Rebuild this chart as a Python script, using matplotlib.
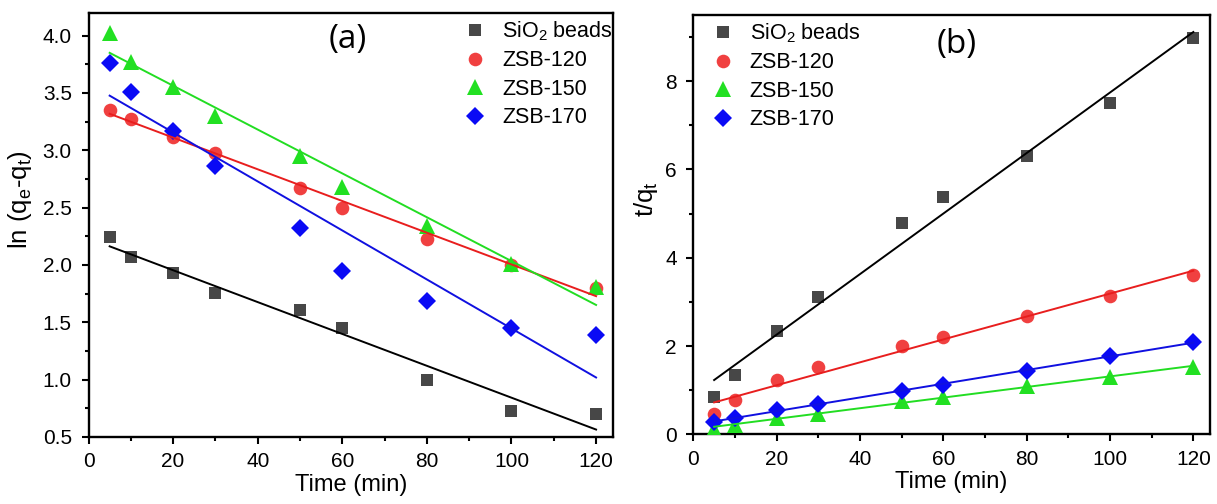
import numpy as np
import matplotlib
matplotlib.use("Agg")
import matplotlib.pyplot as plt
from matplotlib.ticker import MultipleLocator, FormatStrFormatter

plt.rcParams['font.family'] = ['Liberation Sans', 'DejaVu Sans']
plt.rcParams['mathtext.fontset'] = 'custom'
plt.rcParams['mathtext.rm'] = 'Liberation Sans'
plt.rcParams['mathtext.it'] = 'Liberation Sans'

# Contact time (min)
time_min = [5, 10, 20, 30, 50, 60, 80, 100, 120]

series_labels = ['SiO$_2$ beads', 'ZSB-120', 'ZSB-150', 'ZSB-170']

# Pseudo-first-order: ln(qe - qt)
pfo_sio2 = [2.24, 2.07, 1.93, 1.76, 1.61, 1.45, 1.00, 0.73, 0.70]
pfo_zsb120 = [3.35, 3.27, 3.12, 2.98, 2.67, 2.50, 2.23, 2.00, 1.80]
pfo_zsb150 = [4.02, 3.77, 3.55, 3.30, 2.95, 2.68, 2.34, 2.01, 1.81]
pfo_zsb170 = [3.76, 3.51, 3.17, 2.86, 2.32, 1.95, 1.69, 1.45, 1.39]

# Pseudo-second-order: t/qt
pso_sio2 = [0.85, 1.34, 2.34, 3.10, 4.78, 5.37, 6.30, 7.50, 8.97]
pso_zsb120 = [0.47, 0.78, 1.23, 1.53, 2.00, 2.21, 2.68, 3.14, 3.62]
pso_zsb150 = [0.12, 0.22, 0.37, 0.47, 0.76, 0.85, 1.09, 1.30, 1.52]
pso_zsb170 = [0.28, 0.38, 0.55, 0.68, 0.99, 1.12, 1.44, 1.77, 2.09]

marker_colors = ['#474747', '#F04040', '#22E022', '#0A0AF5']
line_colors = ['#000000', '#E81E1E', '#22DD22', '#1010E0']
markers = ['s', 'o', '^', 'D']
marker_sizes = [8.6, 9.8, 11.5, 9]

fig = plt.figure(figsize=(12.17, 5.04), dpi=100)
W, H = 1217, 504
ax_a = fig.add_axes([88.5 / W, 1 - 437 / H, (613 - 88.5) / W, (437 - 12.7) / H])
ax_b = fig.add_axes([693.3 / W, 1 - 434.3 / H, (1210 - 693.3) / W, (434.3 - 15) / H])


def draw_panel(ax, groups):
    x = np.array(time_min, dtype=float)
    handles = []
    for y, lab, mc, mk, ms in zip(groups, series_labels, marker_colors,
                                  markers, marker_sizes):
        h, = ax.plot(x, np.array(y, dtype=float), linestyle='none', marker=mk,
                     markersize=ms, color=mc, markeredgewidth=0, label=lab,
                     zorder=3)
        handles.append(h)
    # linear fits through each series
    for y, lc in zip(groups, line_colors):
        k, b = np.polyfit(x, np.array(y, dtype=float), 1)
        xx = np.array([x.min(), x.max()])
        ax.plot(xx, k * xx + b, color=lc, linewidth=1.4, zorder=4)
    return handles


def style_axes(ax):
    for s in ax.spines.values():
        s.set_linewidth(1.7)
    ax.tick_params(which='both', direction='out', top=False, right=False,
                   labelsize=15, width=1.5)
    ax.tick_params(which='major', length=5)
    ax.tick_params(which='minor', length=3)
    ax.tick_params(axis='x', pad=6)
    ax.tick_params(axis='y', pad=7)
    ax.xaxis.set_major_locator(MultipleLocator(20))
    ax.xaxis.set_minor_locator(MultipleLocator(10))
    ax.set_xlim(0, 124)
    ax.set_xlabel('Time (min)', fontsize=17, labelpad=2)


legend_kw = dict(frameon=False, fontsize=15.5, handletextpad=0.6,
                 borderpad=0, borderaxespad=0, labelspacing=0.35,
                 handlelength=1.3)

# Panel (a)
h_a = draw_panel(ax_a, [pfo_sio2, pfo_zsb120, pfo_zsb150, pfo_zsb170])
style_axes(ax_a)
ax_a.set_ylim(0.5, 4.2)
ax_a.yaxis.set_major_locator(MultipleLocator(0.5))
ax_a.yaxis.set_minor_locator(MultipleLocator(0.25))
ax_a.yaxis.set_major_formatter(FormatStrFormatter('%.1f'))
ax_a.set_ylabel('ln (q$_e$-q$_t$)', fontsize=18.5)
ax_a.yaxis.set_label_coords(-0.104, 0.559)
ax_a.text(0.495, 0.936, '(a)', transform=ax_a.transAxes, fontsize=24,
          family=['Open Sans', 'DejaVu Sans'], ha='center', va='center')
ax_a.legend(handles=h_a, loc='upper right', bbox_to_anchor=(1.0, 0.985),
            **legend_kw)

# Panel (b)
h_b = draw_panel(ax_b, [pso_sio2, pso_zsb120, pso_zsb150, pso_zsb170])
style_axes(ax_b)
ax_b.set_ylim(0, 9.5)
ax_b.yaxis.set_major_locator(MultipleLocator(2))
ax_b.yaxis.set_minor_locator(MultipleLocator(1))
ax_b.set_ylabel('t/q$_t$', fontsize=18.5)
ax_b.yaxis.set_label_coords(-0.064, 0.561)
ax_b.text(0.51, 0.93, '(b)', transform=ax_b.transAxes, fontsize=24,
          family=['Open Sans', 'DejaVu Sans'], ha='center', va='center')
ax_b.legend(handles=h_b, loc='upper left', bbox_to_anchor=(0.03, 0.985),
            **legend_kw)

fig.savefig('out.png', dpi=100)
